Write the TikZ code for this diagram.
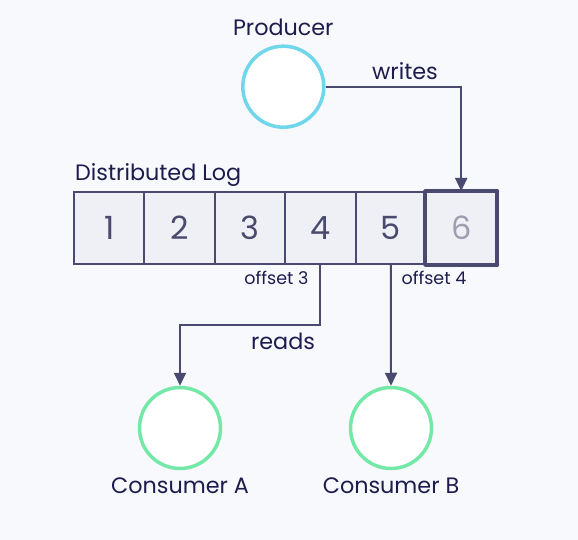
\documentclass[tikz,border=0pt]{standalone}
\usepackage{fontspec}
\setmainfont{Poppins}
\usetikzlibrary{arrows.meta}
\definecolor{bg}{HTML}{F8F9FC}
\definecolor{ink}{HTML}{1E1C4E}
\definecolor{edge}{HTML}{4A4A70}
\definecolor{cellfill}{HTML}{EEF0F6}
\definecolor{digit}{HTML}{4A4A6E}
\definecolor{digitgrey}{HTML}{9E9EAE}
\definecolor{prodcol}{HTML}{6FD6EC}
\definecolor{conscol}{HTML}{74E8A6}
\tikzset{
  cellbox/.style={draw=edge, line width=2pt, fill=cellfill, minimum width=70.4pt, minimum height=72pt, inner sep=0pt, text=digit, font=\fontsize{32}{36}\selectfont},
  actor/.style={circle, line width=3.5pt, fill=white, minimum size=81pt, inner sep=0pt},
  lbl/.style={text=ink, font=\fontsize{22.3}{26}\selectfont, inner sep=0pt},
  small/.style={text=ink, font=\fontsize{17.5}{20}\selectfont, inner sep=0pt},
  arr/.style={draw=edge, line width=2pt, -{Triangle[length=13pt,width=12pt]}},
}
\begin{document}
\begin{tikzpicture}[x=1pt,y=-1pt]
\fill[bg] (0,0) rectangle (578,540);
\useasboundingbox (0,0) rectangle (578,540);
% log cells
\foreach \i in {1,...,5} {
  \node[cellbox] (cell\i) at ({74+35.2+70.4*(\i-1)},228) {\i};
}
\node[cellbox, text=digitgrey] (cell6) at ({74+35.2+70.4*5},228) {6};
\draw[edge, line width=3.5pt, line join=round] (cell6.north west) rectangle (cell6.south east);
\node[lbl, anchor=base west] (loglbl) at (75,181) {Distributed Log};
\node[small] (off3) at (276.5,278) {offset 3};
\node[small] (off4) at (434,278) {offset 4};
% producer
\node[actor, draw=prodcol] (prod) at (283.3,86.7) {};
\node[lbl] (prodlbl) at (283.3,27) {Producer};
\draw[arr] (prod.east) -| (cell6.north);
\node[lbl] (writes) at (405,71) {writes};
% consumers
\node[actor, draw=conscol] (ca) at (180,428) {};
\node[actor, draw=conscol] (cb) at (391,428) {};
\node[lbl] (calbl) at (180,486) {Consumer A};
\node[lbl] (cblbl) at (391,486) {Consumer B};
\coordinate (bendA) at (cell4.south |- 0,325);
\draw[arr] (cell4.south) -- (bendA) -| (ca.north);
\draw[arr] (cell5.south) -- (cb.north);
\node[lbl] (reads) at (283,341) {reads};
\end{tikzpicture}
\end{document}
